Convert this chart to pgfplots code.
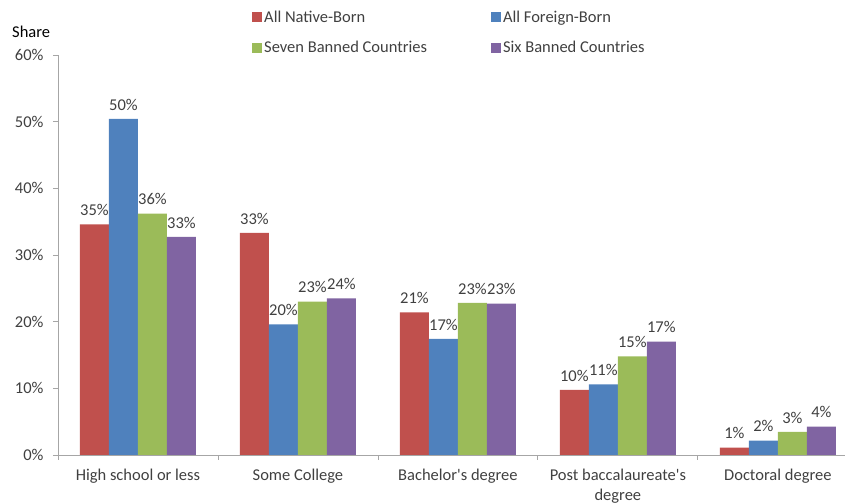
\documentclass[border=0pt]{standalone}
\usepackage{pgfplots}
\pgfplotsset{compat=1.18}
\usepackage{fontspec}
\setmainfont{Carlito}
\definecolor{cred}{HTML}{C0504D}
\definecolor{cblue}{HTML}{4F81BD}
\definecolor{cgreen}{HTML}{9BBB59}
\definecolor{cpurple}{HTML}{8064A2}
\definecolor{txt}{HTML}{404040}
\definecolor{axc}{HTML}{A6A6A6}
\newcommand{\lbl}{\fontsize{16.5bp}{19.5bp}\selectfont}
\begin{document}
\begin{tikzpicture}[x=1bp,y=1bp]
\begin{axis}[
  at={(58bp,49bp)}, anchor=south west,
  scale only axis, width=787bp, height=400bp,
  xmin=-0.5, xmax=4.42, ymin=0, ymax=60,
  axis lines=left, axis line style={draw=axc,-},
  /pgf/number format/assume math mode=true,
  ybar=0pt, bar width=29bp,
  xtick={0,1,2,3,4},
  xticklabels={High school or less, Some College, Bachelor\textquotesingle s degree, Post baccalaureate\textquotesingle s\\degree, Doctoral degree},
  xticklabel style={align=center, font=\lbl, text=txt, yshift=-6bp},
  minor xtick={-0.5,0.5,1.5,2.5,3.5},
  ytick={0,10,20,30,40,50,60},
  yticklabels={0\%,10\%,20\%,30\%,40\%,50\%,60\%},
  yticklabel style={font=\lbl, text=txt, xshift=-6bp},
  tick align=outside, major tick length=5bp, minor tick length=5bp,
  tick style={draw=axc, line width=0.8bp},
  major x tick style={draw=none},
  nodes near coords={\pgfmathprintnumber[fixed,precision=0]{\pgfplotspointmeta}\%},
  every node near coord/.append style={font=\lbl, text=txt, inner sep=0pt, yshift=8.5bp},
  legend columns=2,
  legend cell align=left,
  legend style={at={(0.2459,1.1175)}, anchor=north west, draw=none, fill=none,
    inner sep=0pt, nodes={inner sep=2.5bp},
    font=\lbl, text=txt, row sep=12.5bp,
    /tikz/every even column/.append style={column sep=61bp}},
  legend image code/.code={\fill[#1] (0bp,-5bp) rectangle (10bp,5bp);},
  clip=false,
]
\addplot[fill=cred, draw=none] coordinates {(0,34.6) (1,33.3) (2,21.4) (3,9.75) (4,1.1)};
\addlegendentry{All Native-Born}
\addplot[fill=cblue, draw=none] coordinates {(0,50.4) (1,19.6) (2,17.4) (3,10.6) (4,2.15)};
\addlegendentry{All Foreign-Born}
\addplot[fill=cgreen, draw=none] coordinates {(0,36.2) (1,23.0) (2,22.8) (3,14.8) (4,3.45)};
\addlegendentry{Seven Banned Countries}
\addplot[fill=cpurple, draw=none] coordinates {(0,32.7) (1,23.5) (2,22.7) (3,17.0) (4,4.25)};
\addlegendentry{Six Banned Countries}
\end{axis}
\node[anchor=west, font=\lbl, inner sep=0pt] at (12,472) {Share};
\pgfresetboundingbox
\path[use as bounding box] (0,0) rectangle (845,504);
\end{tikzpicture}
\end{document}
